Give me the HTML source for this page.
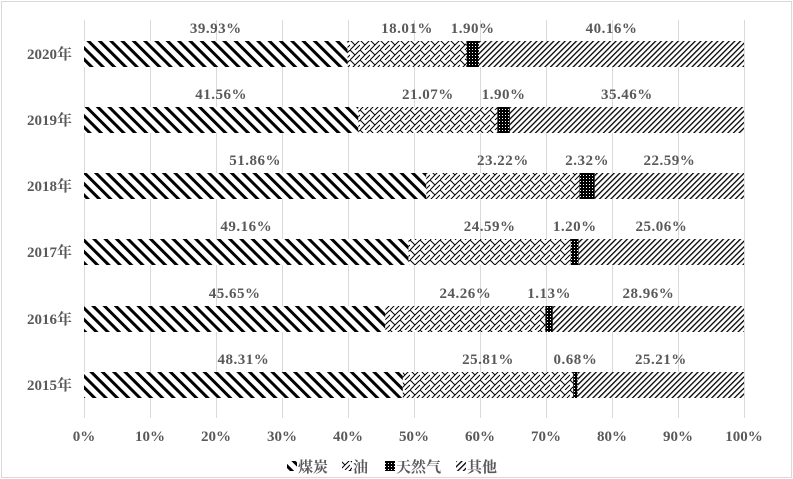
<!DOCTYPE html>
<html><head><meta charset="utf-8"><style>
body{margin:0;background:#fff}
svg{display:block}
text{font-family:"Liberation Serif","Noto Serif CJK SC",serif;font-weight:bold;fill:#595959;font-size:15px}
</style></head><body>
<svg width="793" height="479" viewBox="0 0 793 479" xmlns="http://www.w3.org/2000/svg">
<defs>
<pattern id="coal" width="8" height="8" patternUnits="userSpaceOnUse" patternTransform="rotate(-45)">
<rect width="8" height="8" fill="#fff"/><rect x="0" y="0" width="3" height="8" fill="#000"/></pattern>
<pattern id="oil" width="10" height="10" patternUnits="userSpaceOnUse">
<rect width="10" height="10" fill="#fff"/><path d="M0 10 L10 0 M0 0 L5 5 M5 10 L10 5" stroke="#000" stroke-width="1" fill="none"/></pattern>
<pattern id="gas" width="3" height="3" patternUnits="userSpaceOnUse">
<rect width="3" height="3" fill="#000"/><rect x="1" y="1" width="1" height="1" fill="#fff"/></pattern>
<pattern id="oth" width="4" height="4" patternUnits="userSpaceOnUse" patternTransform="rotate(45)">
<rect width="4" height="4" fill="#fff"/><rect x="0" y="0" width="1.3" height="4" fill="#000"/></pattern>
</defs>
<rect x="1.5" y="1.5" width="790" height="476" fill="#fff" stroke="#d9d9d9"/>
<g stroke="#d9d9d9" stroke-width="1">
<line x1="84.5" y1="20" x2="84.5" y2="418"/><line x1="150.5" y1="20" x2="150.5" y2="418"/><line x1="216.5" y1="20" x2="216.5" y2="418"/><line x1="282.5" y1="20" x2="282.5" y2="418"/><line x1="348.5" y1="20" x2="348.5" y2="418"/><line x1="414.5" y1="20" x2="414.5" y2="418"/><line x1="480.5" y1="20" x2="480.5" y2="418"/><line x1="546.5" y1="20" x2="546.5" y2="418"/><line x1="612.5" y1="20" x2="612.5" y2="418"/><line x1="678.5" y1="20" x2="678.5" y2="418"/><line x1="744.5" y1="20" x2="744.5" y2="418"/>
</g>
<g id="bars"></g>
<g text-anchor="middle">
<text x="84" y="441">0%</text><text x="150" y="441">10%</text><text x="216" y="441">20%</text><text x="282" y="441">30%</text><text x="348" y="441">40%</text><text x="414" y="441">50%</text><text x="480" y="441">60%</text><text x="546" y="441">70%</text><text x="612" y="441">80%</text><text x="678" y="441">90%</text><text x="744" y="441">100%</text>
</g>
<g>
<rect x="287" y="461" width="10" height="10" fill="url(#coal)"/><text x="298" y="472">煤炭</text>
<rect x="342" y="461" width="10" height="10" fill="url(#oil)"/><text x="353" y="472">油</text>
<rect x="385" y="461" width="10" height="10" fill="url(#gas)"/><text x="396" y="472">天然气</text>
<rect x="456" y="461" width="10" height="10" fill="url(#oth)"/><text x="467" y="472">其他</text>
</g>
</svg>
<script>
var d=[["2020年",39.93,18.01,1.90,40.16,41],["2019年",41.56,21.07,1.90,35.46,107],["2018年",51.86,23.22,2.32,22.59,173],["2017年",49.16,24.59,1.20,25.06,239],["2016年",45.65,24.26,1.13,28.96,306],["2015年",48.31,25.81,0.68,25.21,372]];
var f=["coal","oil","gas","oth"],s="";
d.forEach(function(r){var x=84,y=r[5];
s+='<text x="72" y="'+(y+18)+'" text-anchor="end">'+r[0]+'</text>';
for(var i=0;i<4;i++){var w=r[i+1]*6.6;
s+='<rect x="'+x+'" y="'+y+'" width="'+w+'" height="26" fill="url(#'+f[i]+')"/>';
s+='<text x="'+(x+w/2)+'" y="'+(y-8)+'" text-anchor="middle" style="letter-spacing:0.5px">'+r[i+1].toFixed(2)+'%</text>';
x+=w;}});
document.getElementById("bars").innerHTML=s;
</script>
</body></html>
